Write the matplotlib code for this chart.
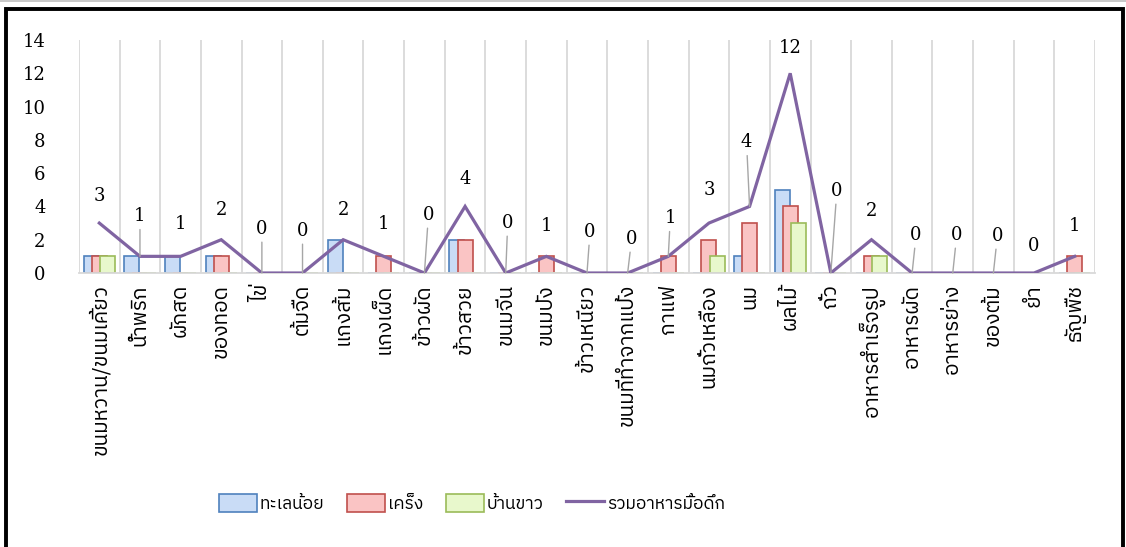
import matplotlib
matplotlib.use("Agg")
import matplotlib.pyplot as plt
import numpy as np
from matplotlib import font_manager
from matplotlib.patches import Rectangle
from matplotlib.lines import Line2D
from fontTools.ttLib import TTFont

CATEGORIES = [
    "ขนมหวาน/ขนมเคี้ยว", "น้ำพริก", "ผักสด", "ของทอด", "ไข่", "ต้มจืด",
    "แกงส้ม", "แกงเผ็ด", "ข้าวผัด", "ข้าวสวย", "ขนมจีน", "ขนมปัง",
    "ข้าวเหนียว", "ขนมที่ทำจากแป้ง", "กาแฟ", "นมถั่วเหลือง", "นม", "ผลไม้",
    "ถั่ว", "อาหารสำเร็จรูป", "อาหารผัด", "อาหารย่าง", "ของต้ม", "ยำ", "ธัญพืช",
]
THALE_NOI = [1, 1, 1, 1, 0, 0, 2, 0, 0, 2, 0, 0, 0, 0, 0, 0, 1, 5, 0, 0, 0, 0, 0, 0, 0]
KRENG     = [1, 0, 0, 1, 0, 0, 0, 1, 0, 2, 0, 1, 0, 0, 1, 2, 3, 4, 0, 1, 0, 0, 0, 0, 1]
BAN_KHAO  = [1, 0, 0, 0, 0, 0, 0, 0, 0, 0, 0, 0, 0, 0, 0, 1, 0, 3, 0, 1, 0, 0, 0, 0, 0]
TOTAL     = [3, 1, 1, 2, 0, 0, 2, 1, 0, 4, 0, 1, 0, 0, 1, 3, 4, 12, 0, 2, 0, 0, 0, 0, 1]
SERIES_NAMES = ["ทะเลน้อย", "เคร็ง", "บ้านขาว", "รวมอาหารมื้อดึก"]
Y_TICKS = [0, 2, 4, 6, 8, 10, 12, 14]

# data-label placement (pixels above / right of the point) and leader lines
LABEL_RISE = [27, 40, 32, 30, 44, 42, 30, 32, 58, 27, 50, 30, 41, 34, 38,
              33, 64, 25, 82, 29, 38, 38, 37, 27, 30]
LABEL_SHIFT = [0, 0, 0, 0, 0, 0, 0, 0, 4, 0, 2, 0, 3, 4, 2, 0, -3, 0, 6, 0, 4, 4, 4, 0, 0]
LEADER = [0, 1, 0, 0, 1, 1, 0, 0, 1, 0, 1, 0, 1, 1, 1, 0, 1, 0, 1, 0, 1, 1, 1, 0, 0]


def thai_family():
    found = []
    for entry in font_manager.fontManager.ttflist:
        try:
            font = TTFont(entry.fname, fontNumber=0, lazy=True)
            if 0x0E01 in font.getBestCmap():
                found.append(entry.name)
        except Exception:
            continue
    for name in found:
        if "Thai" in name and "Looped" not in name:
            return name
    return found[0] if found else "DejaVu Sans"


THAI = thai_family()
SERIF = "DejaVu Serif"

fig = plt.figure(figsize=(11.26, 5.47), dpi=100)
ax = fig.add_axes([79 / 1126, 1 - 273 / 547, (1095 - 79) / 1126, (273 - 40) / 547])

x = np.arange(len(CATEGORIES))
w = 0.37
ax.bar(x - 0.2, THALE_NOI, w, color="#c9dcf6", edgecolor="#4f81bd", linewidth=1.2,
       label=SERIES_NAMES[0], zorder=2)
ax.bar(x, KRENG, w, color="#fac4c4", edgecolor="#c0504d", linewidth=1.2,
       label=SERIES_NAMES[1], zorder=2)
ax.bar(x + 0.2, BAN_KHAO, w, color="#e8f8cc", edgecolor="#9bbb59", linewidth=1.2,
       label=SERIES_NAMES[2], zorder=2)
ax.plot(x, TOTAL, color="#8064a2", linewidth=2.3, label=SERIES_NAMES[3], zorder=4,
        solid_joinstyle="miter")

px = 0.72  # points per pixel at 100 dpi
for i, v in enumerate(TOTAL):
    arrow = dict(arrowstyle="-", color="#a6a6a6", lw=1.0, shrinkA=1, shrinkB=0) if LEADER[i] else None
    ax.annotate(str(v), (x[i], v), xytext=(LABEL_SHIFT[i] * px, LABEL_RISE[i] * px),
                textcoords="offset points", ha="center", va="center",
                fontsize=13, family=SERIF, arrowprops=arrow, zorder=5)

ax.set_xlim(-0.5, len(CATEGORIES) - 0.5)
ax.set_ylim(0, 14)
ax.set_yticks(Y_TICKS)
ax.set_yticklabels([str(t) for t in Y_TICKS], family=SERIF, fontsize=13)
ax.set_xticks(x)
ax.set_xticklabels(CATEGORIES, rotation=90, family=THAI, fontsize=15)
ax.tick_params(axis="both", length=0)
ax.tick_params(axis="y", pad=24)
ax.tick_params(axis="x", pad=8)
ax.set_xticks(np.arange(len(CATEGORIES) + 1) - 0.5, minor=True)
ax.tick_params(axis="x", which="minor", length=0)
ax.grid(which="minor", axis="x", color="#d9d9d9", linewidth=1.3, zorder=0)
ax.grid(which="major", visible=False)
for side in ["top", "right", "left"]:
    ax.spines[side].set_visible(False)
ax.spines["bottom"].set_color("#d9d9d9")
ax.spines["bottom"].set_linewidth(1.3)

handles, labels = ax.get_legend_handles_labels()
order = [1, 2, 3, 0]
fig.legend([handles[k] for k in order], [labels[k] for k in order],
           loc="center", bbox_to_anchor=(472 / 1126, 1 - 503 / 547), ncol=4,
           frameon=False, prop={"family": THAI, "size": 12.5}, handlelength=2.2,
           handleheight=1.2, handletextpad=0.15, columnspacing=1.3)

# outer chart frame
fig.patches.append(Rectangle((6 / 1126, -0.05), 1117 / 1126, 1.05 - 8.5 / 547,
                             transform=fig.transFigure, fill=False,
                             edgecolor="black", linewidth=2.8))
fig.lines.append(Line2D([0, 1], [1 - 0.5 / 547] * 2, transform=fig.transFigure,
                        color="#bfbfbf", linewidth=1.2))

fig.savefig("out.png", dpi=100, facecolor="white")
